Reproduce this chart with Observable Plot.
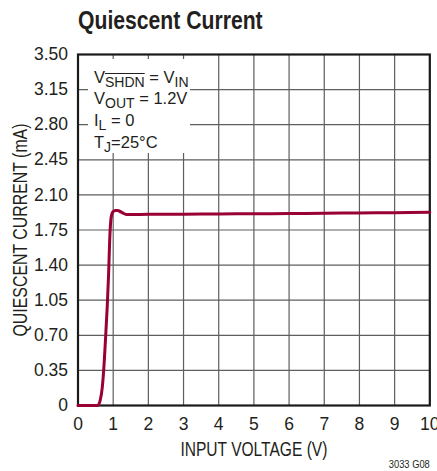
<!DOCTYPE html>
<html>
<head>
<meta charset="utf-8">
<script src="https://cdn.jsdelivr.net/npm/d3@7"></script>
<script src="https://cdn.jsdelivr.net/npm/@observablehq/plot@0.6"></script>
<style>
  html, body { margin: 0; padding: 0; background: #fff; }
  #wrap { position: relative; width: 437px; height: 471px; overflow: hidden; }
  #title { position: absolute; left: 78px; top: 5.5px; line-height: 30px; font: bold 25.5px "Liberation Sans", sans-serif; color: #231f20; white-space: nowrap; transform: scaleX(0.83); transform-origin: 0 50%; }
  #chart { position: absolute; left: 0; top: 40px; }
  #note { position: absolute; left: 88px; top: 59px; width: 102px; height: 94px; background: #fff; }
  #noteText { position: absolute; left: 94px; top: 66.7px; font: 16.5px "Liberation Sans", sans-serif; line-height: 21.7px; color: #231f20; white-space: nowrap; }
  #noteText div { height: 21.7px; }
  #noteText sub { font-size: 85%; vertical-align: -4px; line-height: 0; }
  .ov { text-decoration: overline; }
</style>
</head>
<body>
<div id="wrap">
  <div id="title"></div>
  <div id="chart"></div>
  <div id="note"></div>
  <div id="noteText">
    <div>V<sub><span class="ov">SHDN</span></sub> = V<sub>IN</sub></div>
    <div>V<sub>OUT</sub> = 1.2V</div>
    <div>I<sub>L</sub> = 0</div>
    <div>T<sub>J</sub>=25°C</div>
  </div>
</div>
<script>
const titleText = "Quiescent Current";
const xLabel = "INPUT VOLTAGE (V)";
const yLabel = "QUIESCENT CURRENT (mA)";
const caption = "3033 G08";

const xTicks = [0, 1, 2, 3, 4, 5, 6, 7, 8, 9, 10];
const yTickLabels = ["0", "0.35", "0.70", "1.05", "1.40", "1.75", "2.10", "2.45", "2.80", "3.15", "3.50"];
const yTicks = yTickLabels.map(Number);

// Input voltage (V) and quiescent current (mA)
const vin = [0, 0.56, 0.63, 0.69, 0.73, 0.78, 0.83, 0.87, 0.90, 0.94, 0.99, 1.06, 1.13, 1.22, 1.30, 1.38, 1.60, 2, 3, 4, 5, 6, 7, 8, 9, 10];
const iq  = [0, 0, 0.05, 0.18, 0.35, 0.65, 0.98, 1.31, 1.64, 1.87, 1.93, 1.945, 1.945, 1.93, 1.915, 1.905, 1.905, 1.906, 1.908, 1.91, 1.912, 1.914, 1.917, 1.92, 1.923, 1.927];

const data = vin.map((v, i) => ({v, i: iq[i]}));

document.getElementById("title").textContent = titleText;

const narrow = "Liberation Sans Narrow, Liberation Sans, sans-serif";

const plot = Plot.plot({
  width: 437,
  height: 431,
  marginLeft: 77.5,
  marginRight: 7.7,
  marginTop: 14,
  marginBottom: 66,
  style: { fontFamily: "Liberation Sans, sans-serif", fontSize: "17.5px", color: "#231f20", background: "#fff", overflow: "visible" },
  x: { domain: [0, 10], label: null },
  y: { domain: [0, 3.5], label: null },
  marks: [
    Plot.gridX(xTicks, { stroke: "#5e5e5e", strokeOpacity: 1, strokeWidth: 1.2 }),
    Plot.gridY(yTicks, { stroke: "#5e5e5e", strokeOpacity: 1, strokeWidth: 1.2 }),
    Plot.axisX(xTicks, { tickSize: 0, tickPadding: 12, tickFormat: d => String(d), fontSize: 17.5 }),
    Plot.axisY(yTicks, { tickSize: 0, tickPadding: 10, tickFormat: (d, k) => yTickLabels[k], fontSize: 17.5 }),
    Plot.frame({ stroke: "#1a1a1a", strokeWidth: 2.2 }),
    Plot.line(data, { x: "v", y: "i", stroke: "#990033", strokeWidth: 3, curve: "monotone-x" }),
    Plot.text([xLabel], { frameAnchor: "bottom", dy: 44.3, textAnchor: "middle", lineAnchor: "middle", fontFamily: narrow, fontSize: 20, fill: "#231f20", className: "xlab" }),
    Plot.text([yLabel], { frameAnchor: "left", dx: -57.5, rotate: -90, textAnchor: "middle", lineAnchor: "middle", fontFamily: narrow, fontSize: 19.5, fill: "#231f20", className: "ylab" }),
    Plot.text([caption], { frameAnchor: "bottom-right", dy: 58.5, textAnchor: "end", lineAnchor: "middle", fontFamily: narrow, fontSize: 11.5, fill: "#231f20", className: "cap" })
  ]
});

// condense the axis titles and caption to the reference's narrow lettering
const fit = {xlab: 147, ylab: 213, cap: 41};
for (const [cls, len] of Object.entries(fit)) {
  d3.select(plot).selectAll(`.${cls} text`).attr("textLength", len).attr("lengthAdjust", "spacingAndGlyphs");
}
document.getElementById("chart").appendChild(plot);
</script>
</body>
</html>
